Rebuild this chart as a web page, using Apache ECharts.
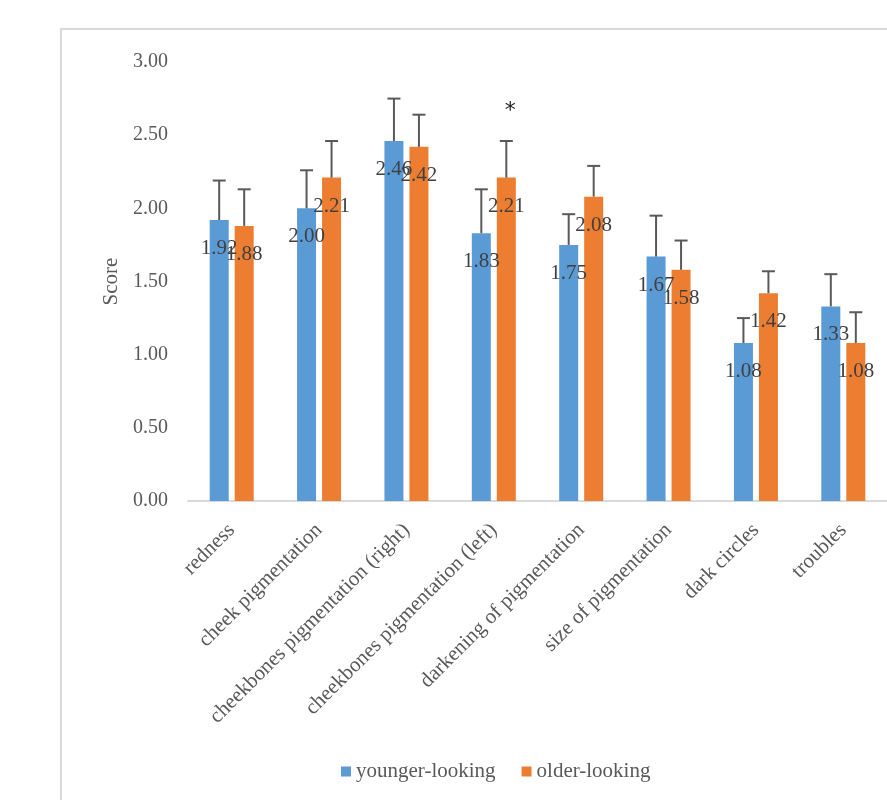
<!DOCTYPE html>
<html>
<head>
<meta charset="utf-8">
<script src="https://cdn.jsdelivr.net/npm/echarts@6/dist/echarts.min.js"></script>
<style>
  html, body { margin: 0; padding: 0; background: #fff; }
  #chart { width: 887px; height: 800px; }
</style>
</head>
<body>
<div id="chart"></div>
<script>
// Facial feature scores for the two perceived-age groups
const categories = [
  'redness', 'cheek pigmentation', 'cheekbones pigmentation (right)',
  'cheekbones pigmentation (left)', 'darkening of pigmentation',
  'size of pigmentation', 'dark circles', 'troubles'
];
const seriesNames = ['younger-looking', 'older-looking'];
const youngerMean = [1.92, 2.00, 2.46, 1.83, 1.75, 1.67, 1.08, 1.33];
const olderMean   = [1.88, 2.21, 2.42, 2.21, 2.08, 1.58, 1.42, 1.08];
// Upper error bar lengths (standard deviation)
const youngerErr = [0.27, 0.26, 0.29, 0.30, 0.21, 0.28, 0.17, 0.22];
const olderErr   = [0.25, 0.25, 0.22, 0.25, 0.21, 0.20, 0.15, 0.21];
// Significance markers shown above the older-looking bars
const olderSignif = ['', '', '', '*', '', '', '', ''];
const yTicks = { min: 0, max: 3, step: 0.5 };

const BAR_W = 19;
const BAR_GAP = 6;
const SERIF = 'Liberation Serif';
const TEXT_GREY = '#595959';
const FONT_SIZE = 21;

const chart = echarts.init(document.getElementById('chart'));

const errorMarks = [
  youngerMean.map(() => ''),
  olderSignif
];

function errorData(means, errs, side) {
  return means.map((m, i) => [i, m, errs[i], side]);
}

function renderError(params, api) {
  const cat = api.value(0);
  const mean = api.value(1);
  const err = api.value(2);
  const side = api.value(3);
  const mark = errorMarks[params.seriesIndex - 2][params.dataIndex];
  const base = api.coord([cat, mean]);
  const top = api.coord([cat, mean + err]);
  const x = base[0] + side * (BAR_W + BAR_GAP) / 2;
  const style = { stroke: TEXT_GREY, lineWidth: 2 };
  const children = [
    { type: 'line', shape: { x1: x, y1: base[1], x2: x, y2: top[1] }, style: style },
    { type: 'line', shape: { x1: x - 6.5, y1: top[1], x2: x + 6.5, y2: top[1] }, style: style }
  ];
  if (mark) {
    children.push({
      type: 'text',
      x: x + 4, y: top[1] - 30,
      style: { text: mark, fill: '#222', font: '22px "DejaVu Sans"', align: 'center', verticalAlign: 'middle' }
    });
  }
  return { type: 'group', children: children };
}

const labelStyle = {
  show: true,
  position: 'insideTop',
  distance: 18,
  color: '#404040',
  fontFamily: SERIF,
  fontSize: FONT_SIZE,
  formatter: p => p.value.toFixed(2)
};

chart.setOption({
  animation: false,
  backgroundColor: '#fff',
  graphic: [{
    type: 'rect',
    shape: { x: 61, y: 29, width: 900, height: 820 },
    style: { fill: 'none', stroke: '#d9d9d9', lineWidth: 2 },
    silent: true
  }],
  grid: { left: 188, right: -5, top: 62, bottom: 299 },
  legend: {
    data: seriesNames,
    left: 336,
    top: 756,
    icon: 'rect',
    itemWidth: 10,
    itemHeight: 10,
    itemGap: 26,
    textStyle: { fontFamily: SERIF, fontSize: FONT_SIZE, color: TEXT_GREY }
  },
  xAxis: {
    type: 'category',
    data: categories,
    axisLine: { lineStyle: { color: '#d9d9d9', width: 2 } },
    axisTick: { show: false },
    axisLabel: {
      rotate: 45,
      interval: 0,
      margin: 26,
      fontFamily: SERIF,
      fontSize: FONT_SIZE,
      color: TEXT_GREY
    }
  },
  yAxis: {
    type: 'value',
    min: yTicks.min,
    max: yTicks.max,
    interval: yTicks.step,
    name: 'Score',
    nameLocation: 'middle',
    nameRotate: 90,
    nameGap: 61,
    nameTextStyle: { fontFamily: SERIF, fontSize: FONT_SIZE, color: TEXT_GREY },
    axisLine: { show: false },
    axisTick: { show: false },
    splitLine: { show: false },
    axisLabel: {
      margin: 20,
      fontFamily: SERIF,
      fontSize: 20,
      color: TEXT_GREY,
      formatter: v => v.toFixed(2)
    }
  },
  series: [
    {
      name: seriesNames[0],
      type: 'bar',
      data: youngerMean,
      barWidth: BAR_W,
      barGap: (BAR_GAP / BAR_W * 100) + '%',
      itemStyle: { color: '#5B9BD5' },
      label: labelStyle
    },
    {
      name: seriesNames[1],
      type: 'bar',
      data: olderMean,
      barWidth: BAR_W,
      itemStyle: { color: '#ED7D31' },
      label: labelStyle
    },
    {
      type: 'custom',
      name: 'younger-err',
      data: errorData(youngerMean, youngerErr, -1),
      renderItem: renderError,
      encode: { x: 0, y: 1 },
      z: 5,
      silent: true
    },
    {
      type: 'custom',
      name: 'older-err',
      data: errorData(olderMean, olderErr, 1),
      renderItem: renderError,
      encode: { x: 0, y: 1 },
      z: 5,
      silent: true
    }
  ]
});
</script>
</body>
</html>
